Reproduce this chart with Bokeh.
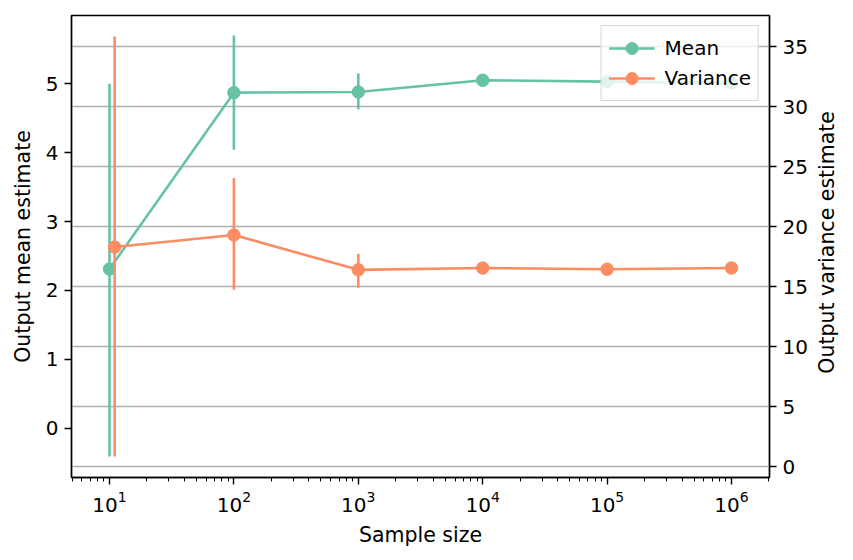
import math
from bokeh.plotting import figure
from bokeh.layouts import row
from bokeh.core.properties import value
from bokeh.models import (Range1d, LinearAxis, SingleIntervalTicker, Grid, Legend,
                          LegendItem, ColumnDataSource, LogTicker)
from bokeh.embed import file_html
from bokeh.resources import INLINE

# ---- data ----
sample_size = [10, 100, 1000, 10000, 100000, 1000000]
var_x = [11, 100, 1000, 10000, 100000, 1000000]
mean_est = [2.31, 4.87, 4.88, 5.05, 5.03, 5.01]
mean_lo = [-0.41, 4.04, 4.63, 4.97, 4.97, 4.98]
mean_hi = [5.00, 5.70, 5.15, 5.13, 5.09, 5.04]
var_est = [18.3, 19.3, 16.4, 16.55, 16.45, 16.55]
var_lo = [0.84, 14.75, 14.9, 16.25, 16.25, 16.45]
var_hi = [35.85, 24.05, 17.75, 16.85, 16.65, 16.65]
right_title_text = ["Output variance estimate"]

GREEN = "#66c2a5"
ORANGE = "#fc8d62"
FONT = "DejaVu Sans"
FS = "20px"
FS_LAB = "20.5px"

W_MAIN = 812
W_SIDE = 853 - W_MAIN
H = 560

p = figure(width=W_MAIN, height=H, x_axis_type="log",
           x_range=Range1d(4.95, 2.02e6), y_range=Range1d(-0.715, 5.99),
           output_backend="svg", toolbar_location=None,
           min_border_left=71, min_border_right=W_MAIN - 769, min_border_top=15,
           min_border_bottom=83)
p.extra_y_ranges = {"var": Range1d(-0.91, 37.6)}
p.background_fill_color = "white"
p.border_fill_color = "white"
p.outline_line_color = "black"
p.outline_line_width = 1.4
p.xgrid.visible = False
p.ygrid.visible = False

right_axis = LinearAxis(y_range_name="var", ticker=SingleIntervalTicker(interval=5))
p.add_layout(right_axis, "right")

p.xaxis.axis_label = "Sample size"
p.xaxis.ticker = LogTicker(desired_num_ticks=6, num_minor_ticks=10)
p.yaxis[0].axis_label = "Output mean estimate"
p.yaxis[0].ticker = SingleIntervalTicker(interval=1)

for ax in [p.xaxis[0], p.yaxis[0], right_axis]:
    ax.axis_label_text_font = FONT
    ax.axis_label_text_font_size = FS_LAB
    ax.axis_label_text_font_style = "normal"
    ax.axis_label_text_color = "black"
    ax.major_label_text_font = FONT
    ax.major_label_text_font_size = FS
    ax.major_label_text_color = "black"
    ax.axis_line_color = "black"
    ax.axis_line_width = 1.4
    ax.major_tick_line_color = "black"
    ax.major_tick_line_width = 1.4
    ax.major_tick_in = 0
    ax.major_tick_out = 7
    ax.minor_tick_line_color = "black"
    ax.minor_tick_line_width = 1.0
    ax.minor_tick_in = 0
    ax.minor_tick_out = 4
    ax.major_label_standoff = 6
    ax.axis_label_standoff = 8
p.yaxis[0].minor_tick_out = 0
right_axis.minor_tick_out = 0

grid = Grid(dimension=1, ticker=SingleIntervalTicker(interval=5), y_range_name="var",
            grid_line_color="#b0b0b0", grid_line_width=1.4)
p.add_layout(grid)

msrc = ColumnDataSource(dict(x=sample_size, y=mean_est, lo=mean_lo, hi=mean_hi))
vsrc = ColumnDataSource(dict(x=var_x, y=var_est, lo=var_lo, hi=var_hi))

# mean series (left axis)
m_err = p.segment(x0="x", y0="lo", x1="x", y1="hi", source=msrc, line_color=GREEN, line_width=2.6)
m_line = p.line("x", "y", source=msrc, line_color=GREEN, line_width=2.6)
m_bar = p.scatter("x", "y", source=msrc, marker="dash", angle=math.pi / 2, size=12,
                  line_color=GREEN, line_width=2.6)
m_pt = p.scatter("x", "y", source=msrc, marker="circle", size=12.5,
                 fill_color=GREEN, line_color=GREEN)

# variance series (right axis)
v_err = p.segment(x0="x", y0="lo", x1="x", y1="hi", source=vsrc, line_color=ORANGE,
                  line_width=2.6, y_range_name="var")
v_line = p.line("x", "y", source=vsrc, line_color=ORANGE, line_width=2.6, y_range_name="var")
v_bar = p.scatter("x", "y", source=vsrc, marker="dash", angle=math.pi / 2, size=12,
                  line_color=ORANGE, line_width=2.6, y_range_name="var")
v_pt = p.scatter("x", "y", source=vsrc, marker="circle", size=12.5,
                 fill_color=ORANGE, line_color=ORANGE, y_range_name="var")

legend = Legend(items=[LegendItem(label="Mean", renderers=[m_line, m_bar, m_pt]),
                       LegendItem(label="Variance", renderers=[v_line, v_bar, v_pt])],
                location="top_right")
legend.label_text_font = FONT
legend.label_text_font_size = FS
legend.label_text_color = "black"
legend.glyph_width = 46
legend.glyph_height = 30
legend.label_standoff = 10
legend.padding = 7
legend.spacing = 0
legend.margin = 10
legend.background_fill_color = "white"
legend.background_fill_alpha = 0.8
legend.border_line_color = "#cccccc"
legend.border_line_width = 1.4
legend.border_line_alpha = 0.8
p.add_layout(legend)

# narrow side panel carrying the right-axis title (reads bottom to top)
side = figure(width=W_SIDE, height=H, x_range=Range1d(0, W_SIDE), y_range=Range1d(0, H),
              output_backend="svg", toolbar_location=None,
              x_axis_location=None, y_axis_location=None,
              min_border=0, min_border_left=0, min_border_right=0,
              min_border_top=0, min_border_bottom=0)
side.outline_line_color = None
side.xgrid.visible = False
side.ygrid.visible = False
side.background_fill_color = "white"
side.border_fill_color = "white"
side.text(x=[14], y=[285], text=right_title_text, angle=math.pi / 2,
          text_align="center", text_baseline="middle",
          text_font=value(FONT), text_font_size=FS_LAB, text_color="black")

layout = row(p, side, spacing=0)
open("out.html", "w").write(file_html(layout, INLINE))
